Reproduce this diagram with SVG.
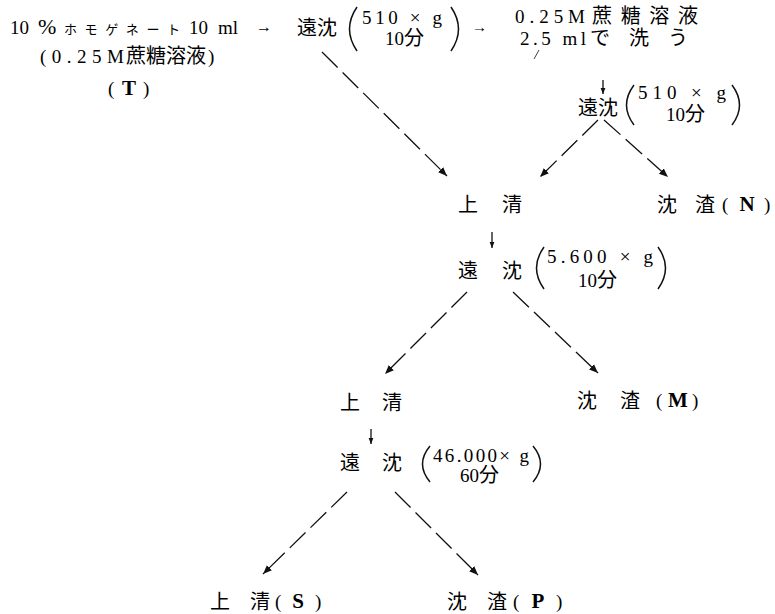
<svg xmlns="http://www.w3.org/2000/svg" width="775" height="614" viewBox="0 0 775 614">
<defs>
<style>
text{font-family:"Liberation Serif","Noto Sans CJK JP",serif;fill:#000}
.j{font-size:20px;font-family:"Noto Sans CJK JP","Liberation Serif",serif;font-weight:normal}
.n{font-size:19px}
.s{font-size:13px}
.b{font-size:21px;font-weight:bold;text-anchor:middle}
.p{stroke:#111;stroke-width:1.5;fill:none}
.c line{stroke:#111;stroke-width:1.3;fill:none}
.d{stroke-dasharray:22 7}
</style>
<marker id="ah" viewBox="0 0 10 10" refX="10" refY="5" markerWidth="9" markerHeight="9" markerUnits="userSpaceOnUse" orient="auto"><path d="M0,1 L10,5 L0,9 z" fill="#111"/></marker>
<marker id="as" viewBox="0 0 10 10" refX="10" refY="5" markerWidth="6" markerHeight="6" markerUnits="userSpaceOnUse" orient="auto"><path d="M0,1 L10,5 L0,9 z" fill="#111"/></marker>
</defs>
<rect width="775" height="614" fill="#fff"/>

<g id="n-homogenate">
<text class="n" x="10" y="34">10</text>
<text x="38" y="34" font-size="22">%</text>
<text class="s" x="64" y="34" textLength="116" lengthAdjust="spacing">ホモゲネート</text>
<text class="n" x="189" y="34">10</text>
<text class="n" x="218" y="34" font-size="20">ml</text>
<text x="256" y="32" font-size="16">→</text>
<text class="n" x="40" y="63" textLength="84" lengthAdjust="spacing">(0.25M</text>
<text class="j" x="126" y="63">蔗糖溶液</text>
<text class="n" x="208" y="63">)</text>
<text class="n" x="108" y="95">(</text>
<text class="b" x="129" y="95">T</text>
<text class="n" x="143" y="95">)</text>
</g>

<g id="n-cent1">
<text class="j" x="297" y="35">遠沈</text>
<path class="p" d="M357,7 Q342,29 357,51"/>
<text class="n" x="362" y="24" textLength="80" lengthAdjust="spacing">510 × g</text>
<text class="n" x="385" y="45">10<tspan class="j" font-size="19">分</tspan></text>
<path class="p" d="M451,7 Q466,29 451,51"/>
<text x="472" y="32" font-size="15">→</text>
</g>

<g id="n-wash">
<text class="n" x="515" y="23" textLength="70" lengthAdjust="spacing">0.25M</text>
<text class="j" x="592" y="23" textLength="106" lengthAdjust="spacing">蔗糖溶液</text>
<text class="n" x="520" y="45" textLength="66" lengthAdjust="spacing">2.5 ml</text>
<text class="j" x="590" y="45" textLength="98" lengthAdjust="spacing">で洗う</text>
</g>

<g id="n-cent2">
<text class="j" x="578" y="115">遠沈</text>
<path class="p" d="M634,85 Q619,105 634,125"/>
<text class="n" x="638" y="99" textLength="88" lengthAdjust="spacing">510 × g</text>
<text class="n" x="666" y="121">10<tspan class="j" font-size="19">分</tspan></text>
<path class="p" d="M732,85 Q747,105 732,125"/>
</g>

<g id="n-sup1">
<text class="j" x="458" y="212">上</text>
<text class="j" x="502" y="212">清</text>
</g>

<g id="n-N">
<text class="j" x="657" y="212">沈</text>
<text class="j" x="695" y="212">渣</text>
<text class="n" x="722" y="211">(</text>
<text class="b" x="747" y="211">N</text>
<text class="n" x="764" y="211">)</text>
</g>

<g id="n-cent3">
<text class="j" x="458" y="278">遠</text>
<text class="j" x="502" y="278">沈</text>
<path class="p" d="M544,247 Q529,268 544,289"/>
<text class="n" x="547" y="263" textLength="106" lengthAdjust="spacing">5.600 × g</text>
<text class="n" x="578" y="287">10<tspan class="j" font-size="19">分</tspan></text>
<path class="p" d="M658,247 Q673,268 658,289"/>
</g>

<g id="n-sup2">
<text class="j" x="340" y="410">上</text>
<text class="j" x="382" y="410">清</text>
</g>

<g id="n-M">
<text class="j" x="577" y="408">沈</text>
<text class="j" x="620" y="408">渣</text>
<text class="n" x="656" y="407">(</text>
<text class="b" x="678" y="407">M</text>
<text class="n" x="692" y="407">)</text>
</g>

<g id="n-cent4">
<text class="j" x="340" y="470">遠</text>
<text class="j" x="382" y="470">沈</text>
<path class="p" d="M430,446 Q415,464 430,482"/>
<text class="n" x="433" y="462" textLength="96" lengthAdjust="spacing">46.000× g</text>
<text class="n" x="460" y="482">60<tspan class="j" font-size="19">分</tspan></text>
<path class="p" d="M533,446 Q548,464 533,482"/>
</g>

<g id="n-S">
<text class="j" x="210" y="609">上</text>
<text class="j" x="250" y="609">清</text>
<text class="n" x="275" y="608">(</text>
<text class="b" x="298" y="608">S</text>
<text class="n" x="315" y="608">)</text>
</g>

<g id="n-P">
<text class="j" x="447" y="609">沈</text>
<text class="j" x="487" y="609">渣</text>
<text class="n" x="513" y="608">(</text>
<text class="b" x="538" y="608">P</text>
<text class="n" x="556" y="608">)</text>
</g>

<g id="connectors" class="c">
<line x1="322" y1="52" x2="447" y2="176" class="d" marker-end="url(#ah)"/>
<line x1="539" y1="50" x2="534" y2="59" style="stroke-width:0.8"/>
<line x1="603" y1="80" x2="603" y2="94" marker-end="url(#as)"/>
<line x1="598" y1="120" x2="540" y2="177" class="d" marker-end="url(#ah)"/>
<line x1="604" y1="120" x2="668" y2="177" class="d" marker-end="url(#ah)"/>
<line x1="492" y1="232" x2="492" y2="248" marker-end="url(#as)"/>
<line x1="467" y1="292" x2="385" y2="374" class="d" marker-end="url(#ah)"/>
<line x1="513" y1="292" x2="598" y2="373" class="d" marker-end="url(#ah)"/>
<line x1="371" y1="429" x2="371" y2="444" marker-end="url(#as)"/>
<line x1="347" y1="492" x2="263" y2="574" class="d" marker-end="url(#ah)"/>
<line x1="395" y1="492" x2="478" y2="575" class="d" marker-end="url(#ah)"/>
</g>
</svg>
